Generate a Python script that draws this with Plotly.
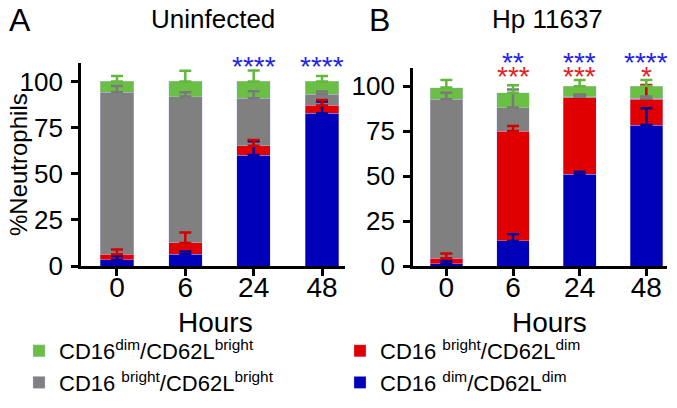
import plotly.graph_objects as go

hours = ["0", "6", "24", "48"]
series_names = [
    "CD16 <sup>dim</sup>/CD62L<sup>dim</sup>",
    "CD16 <sup>bright</sup>/CD62L<sup>dim</sup>",
    "CD16 <sup>bright</sup>/CD62L<sup>bright</sup>",
    "CD16<sup>dim</sup>/CD62L<sup>bright</sup>",
]
colors = ["#0000B8", "#E00000", "#808080", "#6BBF45"]
err_colors = ["#0000A0", "#D00000", "#7A7A7A", "#62B83C"]
legend_ranks = [4, 2, 3, 1]

# Panel A: Uninfected (blue, red, gray, green segments)
a_blue = [3.3, 6.3, 60.1, 82.8]
a_red = [3.0, 6.2, 5.1, 4.2]
a_gray = [87.9, 79.3, 25.7, 6.0]
a_green = [5.8, 8.2, 9.1, 7.0]
a_blue_err = [2.1, 1.5, 7.5, 6.3]
a_red_err = [2.7, 5.6, 3.1, 3.0]
a_gray_err = [3.3, 2.4, 3.8, 1.6]
a_green_err = [3.0, 5.8, 6.0, 2.9]

# Panel B: Hp 11637
b_blue = [1.3, 13.9, 50.9, 78.3]
b_red = [3.0, 61.1, 42.6, 14.3]
b_gray = [88.3, 13.0, 0.5, 0.5]
b_green = [6.5, 8.3, 5.8, 6.9]
b_blue_err = [1.5, 3.7, 1.5, 9.3]
b_red_err = [2.7, 2.8, 1.5, 8.0]
b_gray_err = [3.7, 10.1, 1.0, 1.0]
b_green_err = [4.2, 4.1, 3.5, 3.3]

# significance marks
a_sig_blue = ["", "", "****", "****"]
b_sig_blue = ["", "**", "***", "****"]
b_sig_red = ["", "***", "***", "*"]

FONT = "Arial, Liberation Sans, Helvetica, sans-serif"

# the page body has an 8 px margin; figure sized to fit the window
W, H, OFF = 669, 400, 8


def PX(px):
    return (px - OFF) / W


def PY(py):
    return 1 - (py - OFF) / H


fig = go.Figure()

panels = [
    ("x", "y", [a_blue, a_red, a_gray, a_green],
     [a_blue_err, a_red_err, a_gray_err, a_green_err], True),
    ("x2", "y2", [b_blue, b_red, b_gray, b_green],
     [b_blue_err, b_red_err, b_gray_err, b_green_err], False),
]

for xa, ya, vals, errs, show in panels:
    for i in range(4):
        fig.add_trace(go.Bar(
            x=hours, y=vals[i], xaxis=xa, yaxis=ya,
            name=series_names[i], legendrank=legend_ranks[i],
            marker=dict(color=colors[i], line=dict(width=0.6, color="rgba(200,200,255,0.6)")),
            width=0.49, showlegend=show,
        ))
    # error bars drawn on top of all segments
    cum = [0, 0, 0, 0]
    for i in range(4):
        cum = [c + v for c, v in zip(cum, vals[i])]
        fig.add_trace(go.Scatter(
            x=hours, y=cum, xaxis=xa, yaxis=ya, mode="markers",
            marker=dict(size=1, opacity=0), showlegend=False, hoverinfo="skip",
            error_y=dict(type="data", symmetric=False, array=errs[i],
                         arrayminus=[0, 0, 0, 0], color=err_colors[i],
                         thickness=2.5, width=6),
        ))

axis_common = dict(
    showline=True, linecolor="black", linewidth=2.6, ticks="outside",
    ticklen=7, tickwidth=2.6, tickcolor="black", showgrid=False, zeroline=False,
    automargin=False,
)
xfont = dict(family=FONT, size=28, color="black")
yfont = dict(family=FONT, size=26, color="black")

fig.update_layout(
    width=W, height=H,
    margin=dict(l=0, r=0, t=0, b=0, autoexpand=False),
    paper_bgcolor="white", plot_bgcolor="white",
    barmode="stack", bargap=0.5,
    font=dict(family=FONT, color="black"),
    xaxis=dict(domain=[PX(81), PX(345)], range=[-0.526, 3.336], type="category",
               anchor="y", tickfont=xfont, ticklabelstandoff=-12, **axis_common),
    yaxis=dict(domain=[PY(266), PY(63)], range=[0, 110], tickvals=[0, 25, 50, 75, 100],
               anchor="x", tickfont=yfont, ticklabelstandoff=3, **axis_common),
    xaxis2=dict(domain=[PX(413), PX(667)], range=[-0.5, 3.31], type="category",
                anchor="y2", tickfont=xfont, ticklabelstandoff=-12, **axis_common),
    yaxis2=dict(domain=[PY(266), PY(68)], range=[0, 110], tickvals=[0, 25, 50, 75, 100],
                anchor="x2", tickfont=yfont, ticklabelstandoff=3, **axis_common),
    legend=dict(orientation="h", x=PX(19), y=PY(330), xanchor="left", yanchor="top",
                entrywidth=276, entrywidthmode="pixels", traceorder="normal",
                font=dict(family=FONT, size=22, color="black"),
                bgcolor="rgba(0,0,0,0)", tracegroupgap=0),
    showlegend=True,
)

ann = []


def text_ann(text, x, y, size, anchor="center", angle=0, yanchor="middle"):
    ann.append(dict(text=text, x=PX(x), y=PY(y), xref="paper", yref="paper",
                    xanchor=anchor, yanchor=yanchor, showarrow=False, textangle=angle,
                    borderpad=0, font=dict(family=FONT, size=size, color="black")))


text_ann("A", 8, 19.5, 32, anchor="left")
text_ann("B", 368, 19.5, 32, anchor="left")
text_ann("Uninfected", 213, 19, 26)
text_ann("Hp 11637", 547, 19, 26)
text_ann("%Neutrophils", 18, 165, 24, angle=-90)
text_ann("Hours", 215, 322, 28)
text_ann("Hours", 549, 322, 28)


def star_ann(k, s, xref, y, color):
    ann.append(dict(text=s, x=k, y=PY(y), xref=xref, yref="paper", yanchor="middle",
                    showarrow=False, borderpad=0,
                    font=dict(family=FONT, size=28, color=color)))


for k, s in enumerate(a_sig_blue):
    if s:
        star_ann(k, s, "x", 67, "#2424E6")
for k, s in enumerate(b_sig_blue):
    if s:
        star_ann(k, s, "x2", 63, "#2424E6")
for k, s in enumerate(b_sig_red):
    if s:
        star_ann(k, s, "x2", 76, "#E02424")

fig.update_layout(annotations=ann)

fig.write_html("out.html")
